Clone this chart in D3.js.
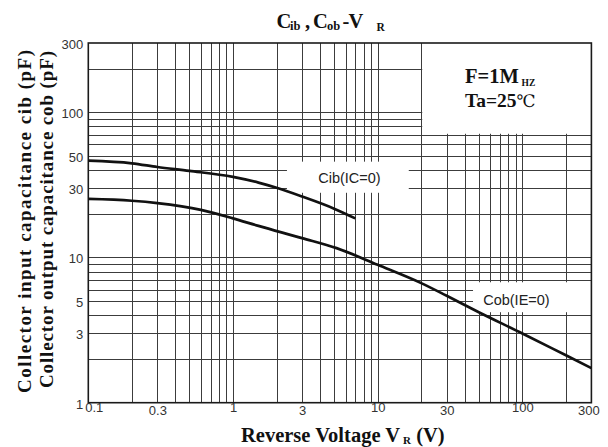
<!DOCTYPE html>
<html>
<head>
<meta charset="utf-8">
<script src="https://cdn.jsdelivr.net/npm/d3@7"></script>
<style>
  body { margin: 0; background: #fff; }
  svg { display: block; }
</style>
</head>
<body>
<div id="chart"></div>
<script>
// values
var cibVoltage = [0.1, 0.2, 0.3, 0.5, 1, 1.5, 2, 3, 5, 7];
var cibCap     = [46.4, 44.5, 42, 39.5, 35.9, 32.8, 30.2, 26.3, 21.7, 18.6];

var cobVoltage = [0.1, 0.2, 0.3, 0.6, 1, 1.5, 3, 5.2, 10, 20, 30, 50, 100, 200, 300];
var cobCap     = [25.3, 24.6, 23.7, 21.3, 18.6, 16.5, 13.6, 11.6, 8.9, 6.66, 5.45, 4.2, 3.0, 2.12, 1.73];

var xTickValues = [0.1, 0.3, 1, 3, 10, 30, 100, 300];
var yTickValues = [1, 3, 5, 10, 30, 50, 100, 300];

var W = 608, H = 447;
var margin = {top: 43, right: 16.6, bottom: 44.3, left: 88.3};
var width = W - margin.left - margin.right,
    height = H - margin.top - margin.bottom;

var x = d3.scaleLog().domain([0.1, 300]).range([0, width]);
var y = d3.scaleLog().domain([1, 300]).range([height, 0]);

var svg = d3.select("#chart").append("svg")
  .attr("width", W)
  .attr("height", H);

var g = svg.append("g")
  .attr("transform", "translate(" + margin.left + "," + margin.top + ")");

// grid lines (1..9 per decade), drawn with axes
var xGrid = x.ticks().filter(function(v) { return v > 0.1 && v < 300; });
var yGrid = y.ticks().filter(function(v) { return v > 1 && v < 300; });

g.append("g")
  .attr("class", "grid")
  .attr("transform", "translate(0," + height + ")")
  .call(d3.axisBottom(x).tickValues(xGrid).tickSize(-height).tickFormat(""));

g.append("g")
  .attr("class", "grid")
  .call(d3.axisLeft(y).tickValues(yGrid).tickSize(-width).tickFormat(""));

g.selectAll(".grid .domain").remove();
g.selectAll(".grid line")
  .attr("stroke", "#3c3c3c")
  .attr("stroke-width", 1)
  .attr("shape-rendering", "crispEdges");

// white boxes that clear the grid behind the notes and labels
g.append("rect") // condition box, edges are the 20 V and 70 pF grid lines
  .attr("x", x(20) + 1)
  .attr("y", 0)
  .attr("width", width - x(20) - 1)
  .attr("height", y(70) - 1)
  .attr("fill", "#fff");

g.append("rect") // Cib label
  .attr("x", x(2.36))
  .attr("y", y(45.7))
  .attr("width", x(16.4) - x(2.36))
  .attr("height", y(27.9) - y(45.7))
  .attr("fill", "#fff");

g.append("rect") // Cob label
  .attr("x", x(45.6))
  .attr("y", y(6.75))
  .attr("width", width - x(45.6))
  .attr("height", y(4.2) - y(6.75))
  .attr("fill", "#fff");

// frame
g.append("rect")
  .attr("width", width)
  .attr("height", height)
  .attr("fill", "none")
  .attr("stroke", "#1a1a1a")
  .attr("stroke-width", 1.6);

// curves
var line = d3.line()
  .x(function(d) { return x(d[0]); })
  .y(function(d) { return y(d[1]); })
  .curve(d3.curveMonotoneX);

var cib = d3.zip(cibVoltage, cibCap);
var cob = d3.zip(cobVoltage, cobCap);

[cib, cob].forEach(function(s) {
  g.append("path")
    .datum(s)
    .attr("fill", "none")
    .attr("stroke", "#111")
    .attr("stroke-width", 2.7)
    .attr("d", line);
});

// curve labels
g.append("text")
  .attr("x", x(6.38))
  .attr("y", y(35.3))
  .attr("text-anchor", "middle")
  .attr("dominant-baseline", "central")
  .style("font", "14.5px 'Liberation Sans', Arial, sans-serif")
  .attr("fill", "#222")
  .text("Cib(IC=0)");

g.append("text")
  .attr("x", x(91))
  .attr("y", y(5.11))
  .attr("text-anchor", "middle")
  .attr("dominant-baseline", "central")
  .style("font", "14.5px 'Liberation Sans', Arial, sans-serif")
  .attr("fill", "#222")
  .text("Cob(IE=0)");

// tick labels
var xAxis = g.append("g")
  .attr("transform", "translate(0," + height + ")")
  .call(d3.axisBottom(x).tickValues(xTickValues).tickSize(0).tickPadding(3)
    .tickFormat(function(d) { return String(d); }));

var yAxis = g.append("g")
  .call(d3.axisLeft(y).tickValues(yTickValues).tickSize(0).tickPadding(5)
    .tickFormat(function(d) { return String(d); }));

[xAxis, yAxis].forEach(function(a) {
  a.select(".domain").remove();
  a.selectAll("text")
    .style("font", "13px 'Liberation Sans', Arial, sans-serif")
    .attr("fill", "#333");
});

yAxis.selectAll("text").attr("dy", "0.42em");

xAxis.selectAll("text")
  .attr("y", function(d) {
    var p = Math.log10(d);
    return Math.abs(p - Math.round(p)) < 1e-9 ? 0.5 : 3;
  })
  .attr("dx", function(d) {
    if (d === xTickValues[0]) return 5.5;
    if (d === xTickValues[xTickValues.length - 1]) return -3;
    return 0;
  });

// serif texts
var serif = "'Liberation Serif', 'Times New Roman', serif";

function pieces(list) {
  var t = svg.append("text")
    .attr("font-family", serif)
    .attr("font-weight", "bold")
    .attr("fill", "#111");
  list.forEach(function(p) {
    t.append("tspan")
      .attr("x", p[1])
      .attr("y", p[2])
      .attr("font-size", p[3])
      .text(p[0]);
  });
  return t;
}

// title  C_ib , C_ob - V_R
pieces([
  ["C", 276.5, 27.5, 20.5],
  ["ib", 290, 30, 12.5],
  [",", 305, 27.5, 20.5],
  ["C", 313, 27.5, 20.5],
  ["ob", 327, 30, 12.5],
  ["-", 342.5, 27.5, 20.5],
  ["V", 348.5, 27.5, 20.5],
  ["R", 376.5, 31, 11.5]
]);

// condition note
pieces([
  ["F=1M", 465, 83.3, 20.5],
  ["HZ", 521.5, 85.5, 9.5]
]);

pieces([["Ta=25", 465, 106.7, 19.5]]);
svg.append("text")
  .attr("x", 516.5)
  .attr("y", 106.7)
  .attr("font-family", "'DejaVu Serif', 'Liberation Serif', serif")
  .attr("font-size", 17)
  .attr("fill", "#111")
  .text("℃");

// x axis title
var xt = svg.append("text")
  .attr("x", 241)
  .attr("y", 441.5)
  .attr("font-family", serif)
  .attr("font-weight", "bold")
  .attr("font-size", 20.5)
  .attr("fill", "#111");
xt.append("tspan").text("Reverse Voltage V");
xt.append("tspan").attr("font-size", 11).attr("dy", 2).attr("dx", 3).text("R");
xt.append("tspan").attr("dy", -2).text(" (V)");

// y axis title, two lines
[["Collector input capacitance cib (pF)", 31, 221.5, 343],
 ["Collector output capacitance cob (pF)", 52.5, 219.5, 337]].forEach(function(l) {
  svg.append("text")
    .attr("transform", "translate(" + l[1] + "," + l[2] + ") rotate(-90)")
    .attr("text-anchor", "middle")
    .attr("font-family", serif)
    .attr("font-weight", "bold")
    .attr("font-size", 19)
    .attr("textLength", l[3])
    .attr("lengthAdjust", "spacing")
    .attr("fill", "#111")
    .text(l[0]);
});
</script>
</body>
</html>
